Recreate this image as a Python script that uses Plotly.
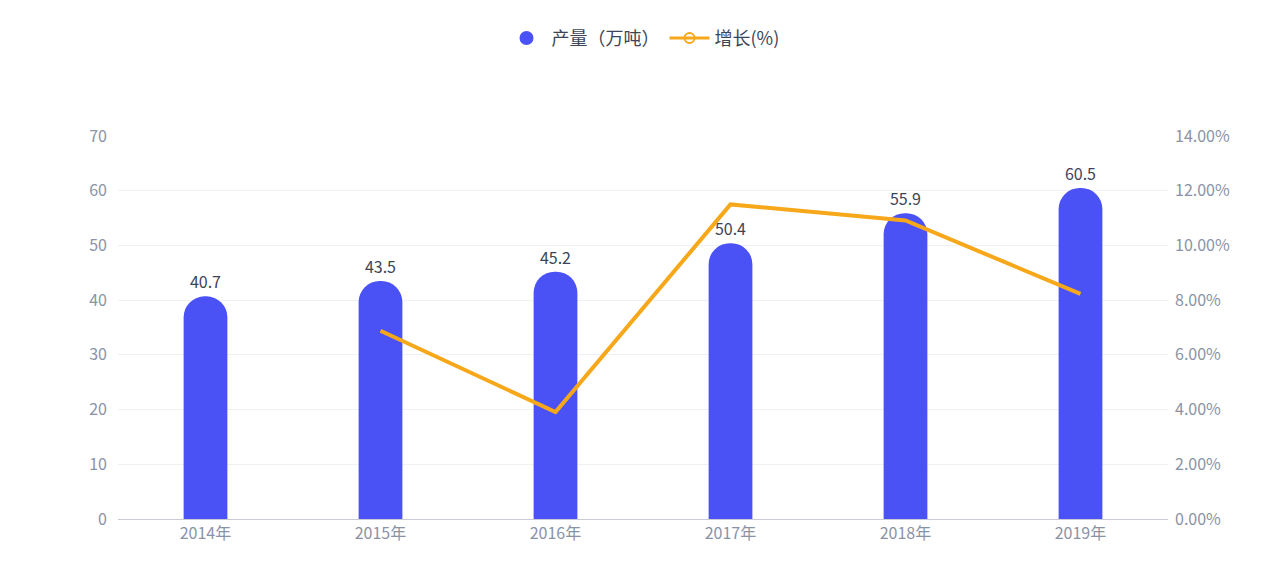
import plotly.graph_objects as go

years = ["2014年", "2015年", "2016年", "2017年", "2018年", "2019年"]
output = [40.7, 43.5, 45.2, 50.4, 55.9, 60.5]
growth_years = ["2015年", "2016年", "2017年", "2018年", "2019年"]
growth = [6.88, 3.91, 11.50, 10.91, 8.23]

font = "Noto Sans CJK SC"
bar_color = "#4a52f6"
line_color = "#f7a81a"
fig = go.Figure()
fig.add_trace(go.Bar(
    x=years, y=output, name="产量（万吨）", width=0.25, showlegend=False,
    marker=dict(color=bar_color, cornerradius=22, line=dict(width=0)),
    text=[f"{v}" for v in output], textposition="outside",
    textfont=dict(color="#3d4457", size=16), cliponaxis=False,
))
fig.add_trace(go.Scatter(
    x=[None], y=[None], name="产量（万吨）", mode="markers",
    marker=dict(symbol="circle", size=14, color=bar_color),
))
fig.add_trace(go.Scatter(
    x=growth_years, y=growth, name="增长(%)", yaxis="y2", mode="lines",
    line=dict(color=line_color, width=4), showlegend=False,
))
fig.add_trace(go.Scatter(
    x=[None], y=[None], name="增长(%)", yaxis="y2", mode="lines+markers",
    line=dict(color=line_color, width=3),
    marker=dict(symbol="circle-open", size=10, color=line_color, line=dict(width=2)),
))

fig.update_layout(
    width=1269, height=583, plot_bgcolor="white", paper_bgcolor="white",
    font=dict(family=font, color="#8a93a6", size=16),
    margin=dict(l=110, r=109, t=95, b=72),
    legend=dict(orientation="h", x=0.5, xanchor="center", y=1.255, yanchor="middle",
                font=dict(size=18, color="#3d4457"), itemwidth=40),
    xaxis=dict(showgrid=False, showline=True, linecolor="#c9ccd4", ticks="",
               tickfont=dict(size=16, color="#8a93a6")),
    yaxis=dict(range=[0, 70], dtick=10, gridcolor="#f0f1f4", zeroline=False,
               tickfont=dict(size=16, color="#8a93a6"), ticklabelstandoff=10),
    yaxis2=dict(range=[0, 14], dtick=2, overlaying="y", side="right", showgrid=False,
                zeroline=False, ticksuffix="%", tickformat=".2f",
                tickfont=dict(size=16, color="#8a93a6"), ticklabelstandoff=6),
)
fig.write_html("out.html")
